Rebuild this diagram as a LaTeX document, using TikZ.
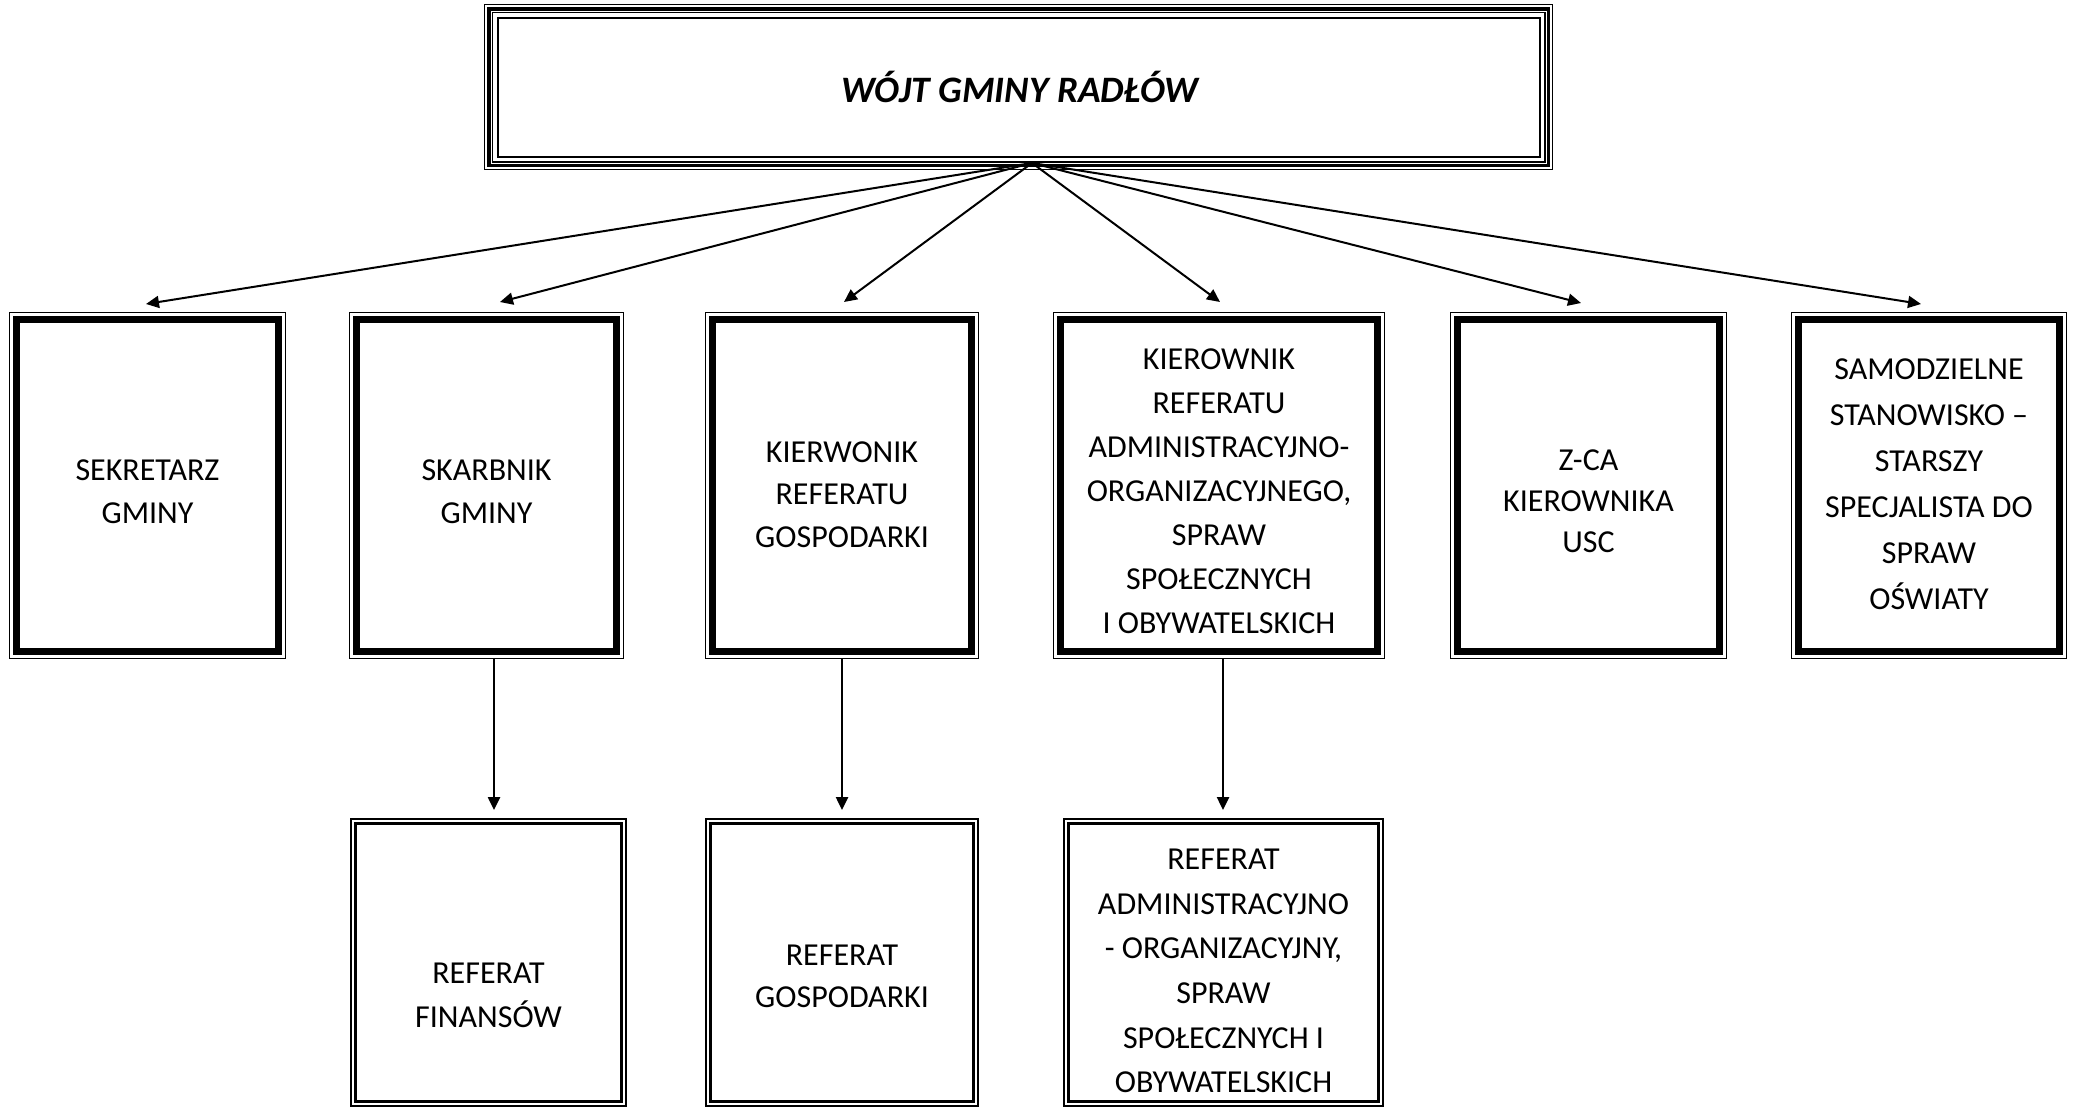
\documentclass[tikz,border=0pt]{standalone}
\usepackage{fontspec}
\setmainfont{Carlito}
\usetikzlibrary{arrows.meta}
\tikzset{
  txt/.style={font=\fontsize{32}{#1}\selectfont, align=center, inner sep=0pt,
    execute at begin node=\strut, execute at end node=\strut},
  toptxt/.style={font=\fontsize{37.3}{44}\selectfont\bfseries\itshape, inner sep=0pt,
    execute at begin node=\strut, execute at end node=\strut},
  frame/.style={draw, inner sep=0pt, outer sep=0pt, fill=white},
  arr/.style={line width=2pt, -{Triangle[length=13pt,width=12pt]}},
}
% #1 name, #2 x1, #3 y1, #4 x2, #5 y2 (outer edges)
\newcommand{\midframe}[5]{%
  \node[frame, line width=1.3pt, minimum width={#4-#2-1.3}, minimum height={#5-#3-1.3}]
    (#1) at ({(#2+#4)/2},{(#3+#5)/2}) {};
  \draw[line width=7.5pt] ([shift={(6.85,6.85)}]#1.north west) rectangle ([shift={(-6.85,-6.85)}]#1.south east);
}
\newcommand{\lowframe}[5]{%
  \node[frame, line width=2.3pt, minimum width={#4-#2-2.4}, minimum height={#5-#3-2.4}]
    (#1) at ({(#2+#4)/2},{(#3+#5)/2}) {};
  \draw[line width=2.3pt] ([shift={(4.3,4.3)}]#1.north west) rectangle ([shift={(-4.3,-4.3)}]#1.south east);
}
\begin{document}
\begin{tikzpicture}[x=1pt,y=-1pt]
\fill[white] (0,0) rectangle (2075,1108);
\useasboundingbox (0,0) rectangle (2075,1108);

% top box
\node[frame, line width=1.2pt, minimum width={1553.5-484-1.4}, minimum height={170.5-4-1.4}]
  (top) at ({(484+1553.5)/2},{(4+170.5)/2}) {};
\draw[line width=3.5pt] ([shift={(4.1,4.1)}]top.north west) rectangle ([shift={(-4.1,-4.1)}]top.south east);
\draw[line width=1.8pt] ([shift={(7.8,7.8)}]top.north west) rectangle ([shift={(-7.8,-7.8)}]top.south east);
\draw[line width=2pt] ([shift={(13.3,13.3)}]top.north west) rectangle ([shift={(-13.3,-13.3)}]top.south east);
\node[toptxt] (toptext) at (1020,93) {WÓJT GMINY RADŁÓW};

% middle row
\midframe{m1}{9}{312}{286}{659}
\midframe{m2}{349}{312}{624}{659}
\midframe{m3}{705}{312}{979}{659}
\midframe{m4}{1053}{312}{1385}{659}
\midframe{m5}{1450}{312}{1727}{659}
\midframe{m6}{1791}{312}{2067}{659}

\node[txt=42.3] (m1t) at (147.5,498) {SEKRETARZ\\GMINY};
\node[txt=42.3] (m2t) at (486.5,498) {SKARBNIK\\GMINY};
\node[txt=42.3] (m3t) at (842,500.8) {KIERWONIK\\REFERATU\\GOSPODARKI};
\node[txt=44] (m4t) at (1219,498) {KIEROWNIK\\REFERATU\\ADMINISTRACYJNO-\\ORGANIZACYJNEGO,\\SPRAW\\SPOŁECZNYCH\\I OBYWATELSKICH};
\node[txt=41] (m5t) at (1588.5,507.4) {Z-CA\\KIEROWNIKA\\USC};
\node[txt=46] (m6t) at (1929,491.5) {SAMODZIELNE\\STANOWISKO –\\STARSZY\\SPECJALISTA DO\\SPRAW\\OŚWIATY};

% bottom row
\lowframe{b1}{350}{818}{627}{1107}
\lowframe{b2}{705}{818}{979}{1107}
\lowframe{b3}{1063}{818}{1384}{1107}

\node[txt=43.7] (b1t) at (488.5,1001.5) {REFERAT\\FINANSÓW};
\node[txt=42.3] (b2t) at (842,982.5) {REFERAT\\GOSPODARKI};
\node[txt=44.7] (b3t) at (1223.5,977.5) {REFERAT\\ADMINISTRACYJNO\\- ORGANIZACYJNY,\\SPRAW\\SPOŁECZNYCH I\\OBYWATELSKICH};

% connectors from top box
\coordinate (src) at (1032,163);
\coordinate (t1) at (146,304);
\coordinate (t2) at (500,302);
\coordinate (t3) at (844,302);
\coordinate (t4) at (1220,302);
\coordinate (t5) at (1581,303);
\coordinate (t6) at (1921,304);
\foreach \t in {t1,t2,t3,t4,t5,t6} \draw[arr] (src) -- (\t);

% vertical connectors
\coordinate (v2) at (494,810);
\coordinate (v3) at (842,810);
\coordinate (v4) at (1223,810);
\draw[arr, line width=2.5pt] (v2 |- m2.south) -- (v2);
\draw[arr, line width=2.5pt] (v3 |- m3.south) -- (v3);
\draw[arr, line width=2.5pt] (v4 |- m4.south) -- (v4);
\end{tikzpicture}
\end{document}
